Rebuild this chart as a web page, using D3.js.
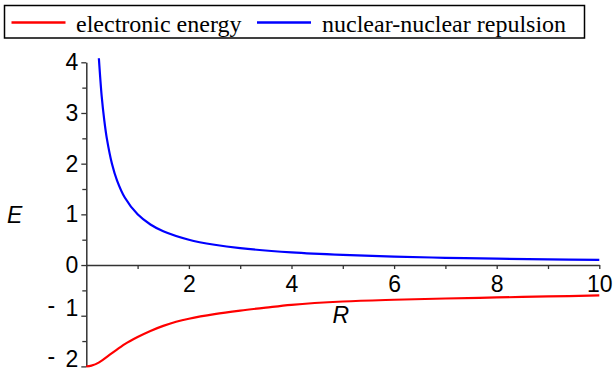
<!DOCTYPE html>
<html><head><meta charset="utf-8">
<script src="https://cdn.jsdelivr.net/npm/d3@7"></script>
<style>
body{margin:0;background:#fff;}
svg{display:block;}
</style></head>
<body>
<svg id="c" width="615" height="376"></svg>
<script>
// Data
const seriesNames = ["electronic energy", "nuclear-nuclear repulsion"];
const seriesColors = ["#ff0000", "#0000ff"];
const electronicR = [0, 0.1, 0.25, 0.5, 0.75, 1, 1.25, 1.5, 1.75, 2, 2.5, 3, 3.5, 4, 5, 6, 7, 8, 9, 10];
const electronicE = [-2.0, -1.985, -1.92, -1.74, -1.56, -1.42, -1.30, -1.20, -1.12, -1.06, -0.97, -0.90, -0.84, -0.785, -0.72, -0.685, -0.66, -0.64, -0.62, -0.60];
const repulsionR = [0.245, 0.3, 0.35, 0.4, 0.5, 0.6, 0.75, 1, 1.25, 1.5, 2, 2.5, 3, 4, 5, 6, 7, 8, 9, 10];
const repulsionE = [4.08, 3.33, 2.86, 2.5, 2.0, 1.667, 1.333, 1.0, 0.8, 0.667, 0.5, 0.4, 0.333, 0.25, 0.2, 0.167, 0.143, 0.125, 0.111, 0.1];
const xMajorTicks = [2, 4, 6, 8, 10];
const xMinorTicks = [1, 3, 5, 7, 9];
const yMajorTicks = [-2, -1, 0, 1, 2, 3, 4];
const yMinorTicks = [-1.5, -0.5, 0.5, 1.5, 2.5, 3.5];
const xLabel = "R", yLabel = "E";

const svg = d3.select("#c");
const x = d3.scaleLinear().domain([0, 10]).range([86.3, 599.3]);
const y = d3.scaleLinear().domain([-2, 4]).range([366.4, 62.3]);
const axisColor = "#333";
const tickFont = "Liberation Sans, Arial, Helvetica, sans-serif";

// x axis at y=0
const gx = svg.append("g").attr("transform", `translate(0,${y(0)})`);
gx.call(d3.axisBottom(x).tickValues(xMajorTicks).tickSize(4).tickPadding(7).tickSizeOuter(0).tickFormat(d3.format("d")));
const gxMinor = gx.append("g").call(d3.axisBottom(x).tickValues(xMinorTicks).tickSize(4).tickSizeOuter(0).tickFormat(""));
gxMinor.select(".domain").remove();
gxMinor.selectAll("text").remove();
// y axis at x=0
const gy = svg.append("g").attr("transform", `translate(${x(0)},0)`);
gy.call(d3.axisLeft(y).tickValues(yMajorTicks).tickSize(5).tickPadding(3).tickSizeOuter(0)
  .tickFormat(d => String(Math.abs(d))));
const gyMinor = svg.append("g").attr("transform", `translate(${x(0)},0)`)
  .call(d3.axisLeft(y).tickValues(yMinorTicks).tickSize(4).tickSizeOuter(0).tickFormat(""));
gyMinor.select(".domain").remove();
gyMinor.selectAll("text").remove();

svg.selectAll(".domain").attr("stroke", axisColor).attr("stroke-width", 1.5);
svg.selectAll(".tick line").attr("stroke", axisColor).attr("stroke-width", 1.3);
svg.selectAll(".tick text").attr("font-family", tickFont).attr("font-size", 23).attr("fill", "#000");

// negative labels: raised minus sign followed by a gap
gy.selectAll(".tick text").each(function(d) {
  if (d < 0) {
    const t = d3.select(this);
    const digits = String(Math.abs(d));
    t.text(null);
    t.append("tspan").attr("dy", "-0.14em").text("-");
    t.append("tspan").attr("dx", "0.45em").attr("dy", "0.14em").text(digits);
  }
});

// axis labels
svg.append("text").attr("x", x(4.8)).attr("y", 323).attr("font-family", tickFont).attr("font-style", "italic")
  .attr("font-size", 23).attr("fill", "#000").text(xLabel);
svg.append("text").attr("x", 7).attr("y", 223).attr("font-family", tickFont).attr("font-style", "italic")
  .attr("font-size", 23).attr("fill", "#000").text(yLabel);

// curves
const line = d3.line().x(d => x(d[0])).y(d => y(d[1])).curve(d3.curveCatmullRom.alpha(0.5));
svg.append("path").datum(electronicR.map((r, i) => [r, electronicE[i]]))
  .attr("d", line).attr("fill", "none").attr("stroke", seriesColors[0]).attr("stroke-width", 2.2);
svg.append("path").datum(repulsionR.map((r, i) => [r, repulsionE[i]]))
  .attr("d", line).attr("fill", "none").attr("stroke", seriesColors[1]).attr("stroke-width", 2.2);

// legend
const lg = svg.append("g");
lg.append("rect").attr("x", 4.5).attr("y", 5.5).attr("width", 580).attr("height", 32.5)
  .attr("fill", "none").attr("stroke", "#000").attr("stroke-width", 1.5);
const legendFont = "Liberation Serif, Times New Roman, serif";
const items = [{x1: 11.5, x2: 65.5, tx: 76}, {x1: 257, x2: 311, tx: 322}];
items.forEach((it, i) => {
  lg.append("line").attr("x1", it.x1).attr("x2", it.x2).attr("y1", 22.5).attr("y2", 22.5)
    .attr("stroke", seriesColors[i]).attr("stroke-width", 2.5);
  lg.append("text").attr("x", it.tx).attr("y", 31.5).attr("font-family", legendFont).attr("font-size", 24)
    .attr("fill", "#000").text(seriesNames[i]);
});
</script>
</body></html>
